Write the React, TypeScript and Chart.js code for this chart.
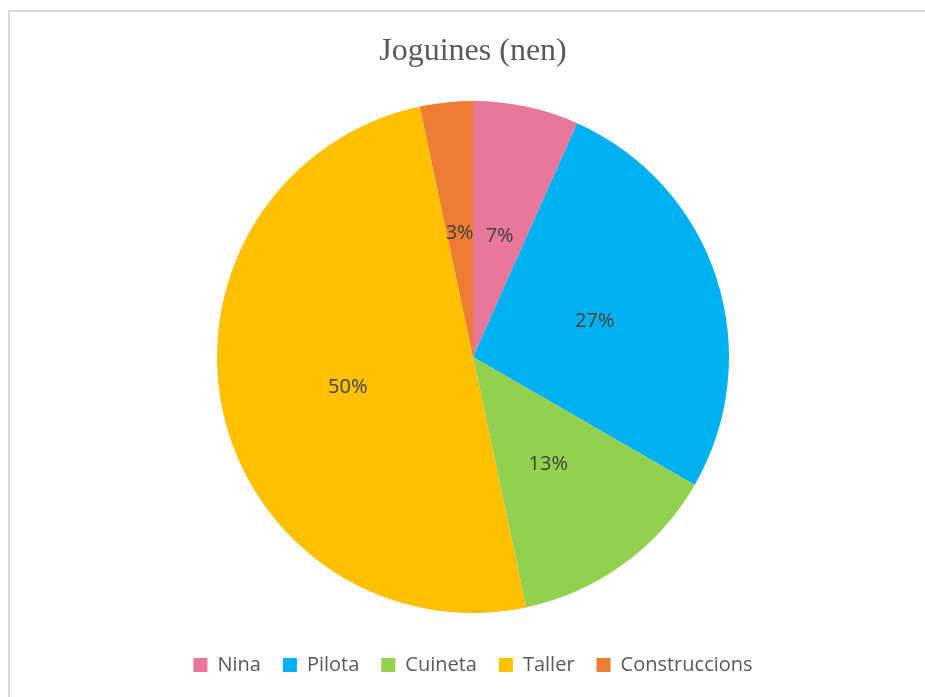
import React, { useEffect, useRef } from "react";
import { Chart, registerables } from "chart.js";

Chart.register(...registerables);

const categories = ["Nina", "Pilota", "Cuineta", "Taller", "Construccions"];
const values = [2, 8, 4, 15, 1];
const colors = ["#E8779A", "#00B0F0", "#92D050", "#FFC000", "#ED7D31"];
const titleText = "Joguines (nen)";

const pctLabels = {
  id: "pctLabels",
  afterDatasetsDraw(chart: any) {
    const ctx = chart.ctx;
    const meta = chart.getDatasetMeta(0);
    const data = chart.data.datasets[0].data as number[];
    const total = data.reduce((a, b) => a + b, 0);
    ctx.save();
    ctx.font = "20px 'Open Sans'";
    ctx.fillStyle = "#404040";
    ctx.textAlign = "center";
    ctx.textBaseline = "middle";
    meta.data.forEach((arc: any, i: number) => {
      const p = arc.getCenterPoint();
      const txt = Math.round((data[i] / total) * 100) + "%";
      ctx.fillText(txt, p.x, p.y + 4);
    });
    ctx.restore();
  },
};

export default function App() {
  const ref = useRef<HTMLCanvasElement>(null);
  useEffect(() => {
    if (!ref.current) return;
    const chart = new Chart(ref.current, {
      type: "pie",
      data: {
        labels: categories,
        datasets: [
          {
            data: values,
            backgroundColor: colors,
            borderWidth: 0,
            radius: 256,
          } as any,
        ],
      },
      options: {
        animation: false,
        responsive: false,
        layout: { padding: { left: 21, right: 0, top: 0, bottom: 12 } },
        plugins: {
          title: {
            display: true,
            text: titleText,
            color: "#595959",
            font: { family: "'Liberation Serif', serif", size: 32, weight: "normal" as any },
            padding: { top: 32, bottom: 10.6 },
          },
          legend: {
            position: "bottom",
            labels: {
              boxWidth: 14,
              boxHeight: 14,
              padding: 22,
              color: "#595959",
              font: { family: "'Open Sans'", size: 20 },
            },
          },
          tooltip: { enabled: false },
        },
      },
      plugins: [pctLabels],
    });
    return () => chart.destroy();
  }, []);

  return (
    <div style={{ position: "fixed", left: 0, top: 0, width: 925, height: 697, overflow: "hidden", background: "#fff" }}>
      <div
        style={{
          position: "absolute",
          left: 8,
          top: 10,
          width: 1000,
          height: 1000,
          border: "2px solid #d9d9d9",
        }}
      />
      <canvas ref={ref} width={925} height={697} style={{ position: "absolute", left: 0, top: 0, width: 925, height: 697 }} />
    </div>
  );
}
